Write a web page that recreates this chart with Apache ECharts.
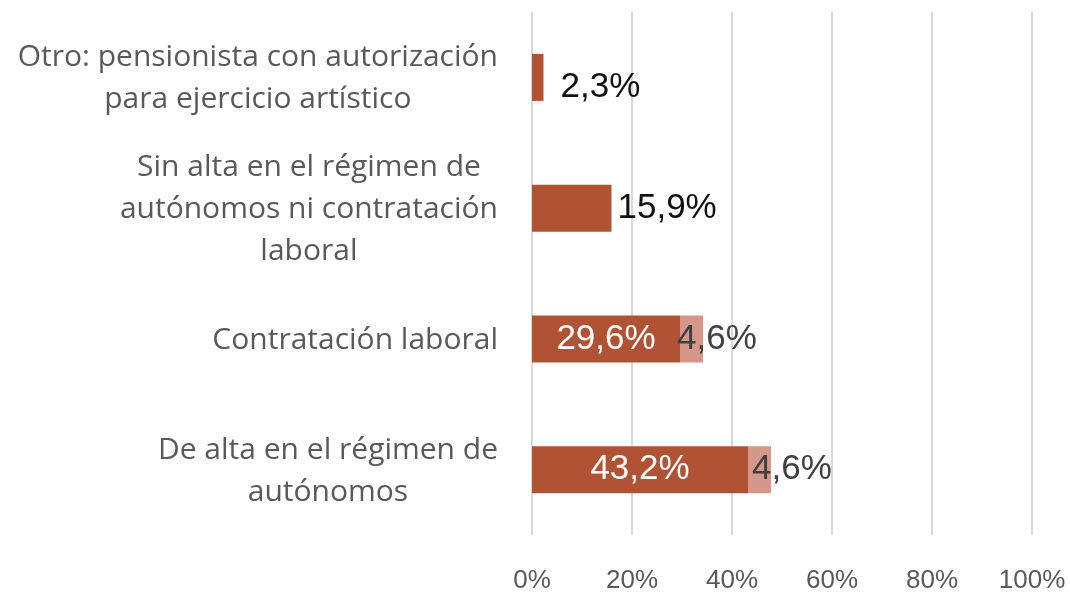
<!DOCTYPE html>
<html style="height: 100%">
<head>
<meta charset="utf-8">
<script type="text/javascript" src="https://cdn.jsdelivr.net/npm/echarts@6/dist/echarts.min.js"></script>
</head>
<body style="height: 100%; margin: 0; background: #fff">
<div id="container" style="width: 1070px; height: 594px"></div>
<script type="text/javascript">
// categories from bottom to top
var CATEGORIES = [
    'De alta en el régimen de\nautónomos',
    'Contratación laboral',
    'Sin alta en el régimen de\nautónomos ni contratación\nlaboral',
    'Otro: pensionista con autorización\npara ejercicio artístico'
];
var MAIN = [43.2, 29.6, 15.9, 2.3];
var EXTRA = [4.6, 4.6, 0, 0];
var X_TICKS = [0, 20, 40, 60, 80, 100];

function fmt(v) {
    return v.toFixed(1).replace('.', ',') + '%';
}

// main series: big bars get label inside, small ones to the right
var mainData = [];
for (var i = 0; i < MAIN.length; i++) {
    var item = {value: MAIN[i]};
    if (MAIN[i] > 20) {
        item.label = {position: 'inside', color: '#ffffff'};
    } else {
        item.label = {position: 'right', color: '#111111', distance: 6};
    }
    if (i == 3) {
        item.label.distance = 17;
        item.label.offset = [0, 10];
    }
    mainData.push(item);
}

var extraData = [];
for (var i = 0; i < EXTRA.length; i++) {
    var item = {value: EXTRA[i]};
    if (EXTRA[i] > 0) {
        item.label = {show: true, distance: i == 0 ? 4 : -3};
    } else {
        item.label = {show: false};
    }
    extraData.push(item);
}

var myChart = echarts.init(document.getElementById('container'));
var option = {
    backgroundColor: '#ffffff',
    animation: false,
    grid: {left: 532, right: 38, top: 12, bottom: 58},
    xAxis: {
        type: 'value',
        min: 0,
        max: 100,
        interval: 20,
        axisLine: {show: false},
        axisTick: {show: false},
        splitLine: {lineStyle: {color: '#d9d9d9', width: 2}},
        axisLabel: {
            margin: 33,
            color: '#595959',
            fontSize: 26,
            fontFamily: 'Liberation Sans, Arial, sans-serif',
            formatter: function (v) {
                return X_TICKS.indexOf(v) >= 0 ? v + '%' : '';
            }
        }
    },
    yAxis: {
        type: 'category',
        data: CATEGORIES,
        axisLine: {show: false},
        axisTick: {show: false},
        axisLabel: {
            margin: 34,
            align: 'right',
            formatter: function (v) {
                return v.split('\n').map(function (s) { return '{c|' + s + '}'; }).join('\n');
            },
            rich: {
                c: {
                    align: 'center',
                    color: '#595959',
                    fontSize: 30,
                    lineHeight: 42,
                    padding: [3, 0, 0, 0],
                    fontFamily: 'Open Sans, sans-serif'
                }
            }
        }
    },
    series: [{
        type: 'bar',
        stack: 'total',
        barWidth: 47,
        itemStyle: {color: '#b05234'},
        label: {
            show: true,
            fontSize: 35,
            fontFamily: 'Liberation Sans, Arial, sans-serif',
            formatter: function (p) { return fmt(p.value); }
        },
        data: mainData
    }, {
        type: 'bar',
        stack: 'total',
        barWidth: 47,
        itemStyle: {color: '#d4978a'},
        label: {
            show: true,
            position: 'insideLeft',
            color: '#404040',
            fontSize: 35,
            fontFamily: 'Liberation Sans, Arial, sans-serif',
            formatter: function (p) { return fmt(p.value); }
        },
        data: extraData
    }]
};
myChart.setOption(option);
</script>
</body>
</html>
